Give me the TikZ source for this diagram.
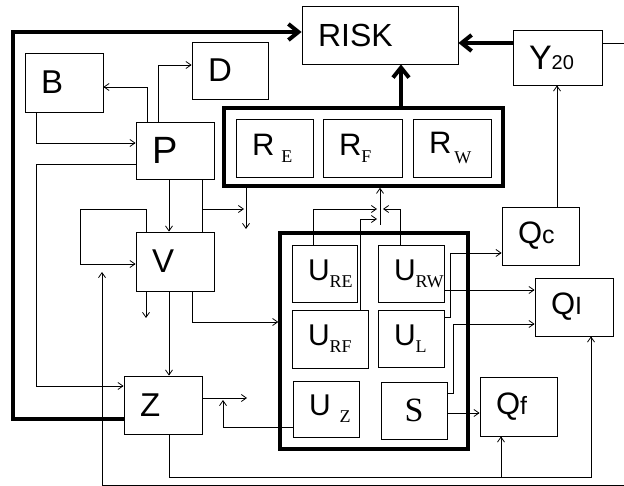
\documentclass[tikz,border=0pt]{standalone}
\usepackage{fontspec}
\setmainfont{Liberation Sans}
\newfontfamily\tnr{Liberation Serif}
\usetikzlibrary{arrows.meta}
\newcommand\lsub[2][7pt]{\raisebox{-#1}{\tnr\fontsize{18pt}{18pt}\selectfont #2}}
\newcommand\qsub[1]{{\fontsize{25pt}{25pt}\selectfont #1}}
\tikzset{
	blk/.style={draw, line width=0.8pt, align=left, inner xsep=16pt, inner ysep=0pt, font=\fontsize{33pt}{36pt}\selectfont},
	grp/.style={draw, line width=3.5pt, inner sep=0pt},
	ln/.style={line width=0.8pt},
	arr/.style={line width=0.8pt, -{Straight Barb[length=5pt,width=7pt]}},
	thk/.style={line width=4pt, -{Straight Barb[length=10pt,width=16pt]}},
}
\begin{document}
\begin{tikzpicture}[x=1pt,y=-1pt]
			\useasboundingbox (0,0) rectangle (624,486);
			% groups
			\node[grp, minimum width=279pt, minimum height=78pt] (Rg) at (363.5,147) {};
			\node[grp, minimum width=188pt, minimum height=216pt] (Ug) at (374,341) {};
			% boxes
			\node[blk, text width=124pt, minimum height=58pt, font=\fontsize{32pt}{36pt}\selectfont] (RISK) at (380,35) {RISK};
			\node[blk, text width=57pt, minimum height=55pt, font=\fontsize{34pt}{36pt}\selectfont] (Y20) at (557.5,57.5) {Y\fontsize{20pt}{20pt}\selectfont 20};
			\node[blk, text width=46pt, minimum height=59pt] (B) at (64,82.5) {B};
			\node[blk, text width=44pt, minimum height=57pt] (D) at (230,70.5) {D};
			\node[blk, text width=46pt, minimum height=57pt, font=\fontsize{38pt}{40pt}\selectfont] (P) at (175,150.5) {P};
			\node[blk, text width=46pt, minimum height=59pt] (V) at (175,261.5) {V};
			\node[blk, text width=46pt, minimum height=58pt] (Z) at (163,405) {Z};
			\node[blk, text width=45pt, minimum height=58pt, font=\fontsize{31pt}{34pt}\selectfont] (RE) at (274.5,148) {R\kern7pt\lsub{E}};
			\node[blk, text width=47pt, minimum height=58pt, font=\fontsize{31pt}{34pt}\selectfont] (RF) at (362.5,148) {R\lsub{F}};
			\node[blk, text width=46pt, minimum height=58pt, font=\fontsize{31pt}{34pt}\selectfont] (RW) at (452,148) {R\kern3pt\lsub[10pt]{W}};
			\node[blk, text width=33pt, minimum height=57pt, font=\fontsize{30pt}{32pt}\selectfont] (URE) at (324.5,273.5) {U\lsub{RE}};
			\node[blk, text width=34pt, minimum height=57pt, font=\fontsize{30pt}{32pt}\selectfont] (URW) at (411,273.5) {U\lsub{RW}};
			\node[blk, text width=44pt, minimum height=58pt, font=\fontsize{30pt}{32pt}\selectfont] (URF) at (330,339) {U\lsub{RF}};
			\node[blk, text width=34pt, minimum height=57pt, font=\fontsize{30pt}{32pt}\selectfont] (UL) at (411,338.5) {U\lsub{L}};
			\node[blk, text width=34pt, minimum height=56pt, font=\fontsize{30pt}{32pt}\selectfont] (UZ) at (326,409) {U\kern9pt\lsub{Z}};
			\node[blk, text width=34pt, minimum height=57pt, align=center, font=\tnr\fontsize{34pt}{36pt}\selectfont] (S) at (414,410.5) {S};
			\node[blk, text width=45pt, minimum height=58pt, font=\fontsize{31pt}{34pt}\selectfont] (Qc) at (540.5,236) {Q\qsub{c}};
			\node[blk, text width=46pt, minimum height=58pt, font=\fontsize{31pt}{34pt}\selectfont] (QI) at (574,307) {Q\qsub{I}};
			\node[blk, text width=45pt, minimum height=59pt, font=\fontsize{31pt}{34pt}\selectfont] (Qf) at (518.5,406.5) {Q\qsub{f}};
			% free ends and corners
			\coordinate (tl) at (13,32);
			\coordinate (pz) at (36,386);
			\coordinate (pb) at (202,209);
			\coordinate (pa) at (244,209);
			\coordinate (rd) at (246,229);
			\coordinate (vl) at (80,209);
			\coordinate (vd) at (146,318);
			\coordinate (zr) at (247,398);
			\coordinate (zu) at (223,400);
			\coordinate (qb) at (591,477);
			\coordinate (fb) at (501,477);
			\coordinate (br) at (624,485);
			\coordinate (bu) at (102,272);
			\coordinate (re) at (624,43);
			\coordinate (ux) at (450,317);
			\coordinate (sx) at (453,393);
			\coordinate (j0) at (380,225);
			\coordinate (j1) at (377,209);
			\coordinate (j2) at (377,219);
			\coordinate (j3) at (383,209);
			% thick arrows to RISK
			\draw[thk] ([yshift=-14pt]Z.west) -| (tl) -- ([yshift=3pt]RISK.west);
			\draw[thk] ([xshift=37.5pt]Rg.north) -- ([xshift=37.5pt]Rg.north |- RISK.south);
			\draw[thk] ([yshift=14.5pt]Y20.west) -- ([yshift=14.5pt]Y20.west -| RISK.east);
			\draw[ln] ([yshift=14.5pt]Y20.east) -- (re);
			% P, B, D
			\draw[arr] ([xshift=-28pt]P.north) |- ([yshift=-4.5pt]B.east);
			\draw[arr] ([xshift=-17pt]P.north) |- ([yshift=5.5pt]D.west);
			\draw[arr] ([xshift=-28pt]B.south) |- ([yshift=7.5pt]P.west);
			\draw[arr] ([yshift=-13.5pt]P.west) -| (pz) -- ([yshift=19pt]Z.west);
			\draw[arr] ([xshift=-6pt]P.south) -- ([xshift=-6pt]V.north);
			\draw[ln] ([xshift=27pt]P.south) -- ([xshift=27pt]V.north);
			\draw[arr] (pb) -- (pa);
			\draw[arr] ([xshift=-117.5pt]Rg.south) -- (rd);
			% V, Z
			\draw[arr] ([xshift=-29pt]V.north) |- (vl) |- ([yshift=-2.5pt]V.west);
			\draw[arr] ([xshift=-6pt]V.south) -- ([xshift=6pt]Z.north);
			\draw[arr] ([xshift=-29pt]V.south) -- (vd);
			\draw[arr] ([xshift=17pt]V.south) |- ([yshift=19pt]Ug.west);
			\draw[arr] ([yshift=7pt]Z.east) -- (zr);
			\draw[arr] ([yshift=-18pt]UZ.west) -| (zu);
			\draw[arr] ([xshift=6pt]Z.south) |- (qb) -- ([xshift=17pt]QI.south);
			\draw[arr] (fb) -- ([xshift=-17.5pt]Qf.south);
			\draw[arr] (br) -| (bu);
			% U to R
			\draw[arr] ([xshift=-11.5pt]URE.north) |- (j1);
			\draw[arr] ([xshift=30pt]URF.north) |- (j2);
			\draw[arr] ([xshift=-11pt]URW.north) |- (j3);
			\draw[arr] (j0) -- ([xshift=16.5pt]Rg.south);
			% U to Q
			\draw[arr] ([xshift=16.5pt]Qc.north) -- ([xshift=-0.5pt]Y20.south);
			\draw[arr] ([yshift=21.5pt]UL.east) -- (ux) |- ([yshift=-17pt]Qc.west);
			\draw[arr] ([yshift=-16.5pt]URW.east) -- ([yshift=-16.5pt]URW.east -| QI.west);
			\draw[arr] ([yshift=17.5pt]S.east) -- (sx) |- ([yshift=-17pt]QI.west);
			\draw[arr] ([yshift=-2.5pt]S.east) -- ([yshift=-2.5pt]S.east -| Qf.west);
\end{tikzpicture}
\end{document}
